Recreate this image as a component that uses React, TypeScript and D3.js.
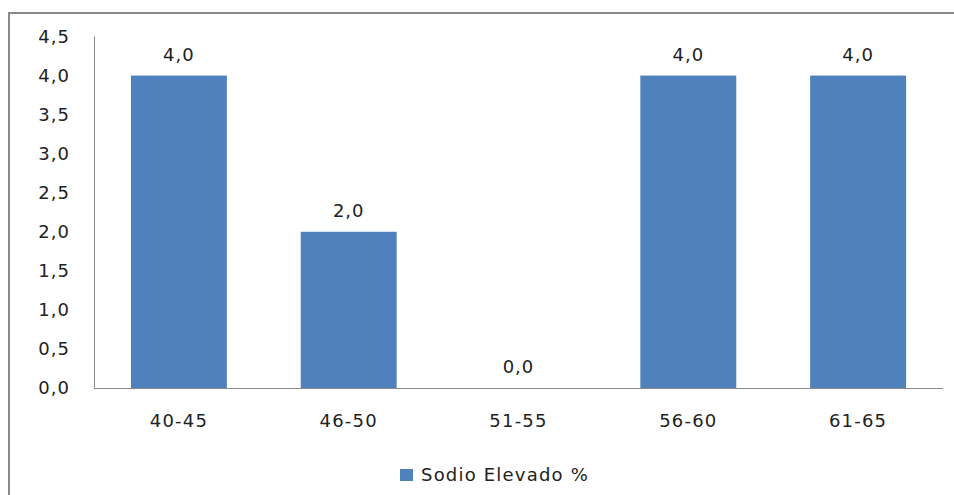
import React from "react";
import * as d3 from "d3";

const categories = ["40-45", "46-50", "51-55", "56-60", "61-65"];
const values = [4.0, 2.0, 0.0, 4.0, 4.0];
const yTicks = [0, 0.5, 1, 1.5, 2, 2.5, 3, 3.5, 4, 4.5];
const seriesName = "Sodio Elevado %";

const W = 954;
const H = 495;
const fmt = (v: number) => v.toFixed(1).replace(".", ",");

export default function App() {
  const x = d3.scaleBand<string>().domain(categories).range([94, 943]).paddingInner(0.435).paddingOuter(0.2175);
  const y = d3.scaleLinear().domain([0, 4.5]).range([388, 36.5]);
  const font = "'DejaVu Sans', Verdana, sans-serif";
  const txt = "#222";
  return (
    <svg width={W} height={H} style={{ position: "absolute", left: 0, top: 0, background: "#fff" }} fontFamily={font}>
      <rect x={9} y={13} width={980} height={520} fill="#fff" stroke="#898989" strokeWidth={2} />
      {yTicks.map((t) => (
        <text key={t} x={70} y={y(t)} dy="0.36em" textAnchor="end" fontSize={18} letterSpacing={1} fill={txt}>
          {fmt(t)}
        </text>
      ))}
      {categories.map((c, i) => (
        <g key={c}>
          <rect x={x(c)} y={y(values[i])} width={x.bandwidth()} height={y(0) - y(values[i])} fill="#4F81BD" />
          <text x={(x(c) as number) + x.bandwidth() / 2} y={y(values[i]) - 15} textAnchor="middle" fontSize={18} letterSpacing={1} fill={txt}>
            {fmt(values[i])}
          </text>
          <text x={(x(c) as number) + x.bandwidth() / 2} y={421} dy="0.36em" textAnchor="middle" fontSize={18} letterSpacing={1.2} fill={txt}>
            {c}
          </text>
        </g>
      ))}
      <line x1={94.5} x2={94.5} y1={36.5} y2={388} stroke="#898989" strokeWidth={1} />
      <line x1={94} x2={943} y1={388.5} y2={388.5} stroke="#898989" strokeWidth={1} />
      <rect x={400} y={469} width={13} height={12} fill="#4F81BD" />
      <text x={421} y={475} dy="0.36em" fontSize={18} letterSpacing={1.2} fill={txt}>
        {seriesName}
      </text>
    </svg>
  );
}
